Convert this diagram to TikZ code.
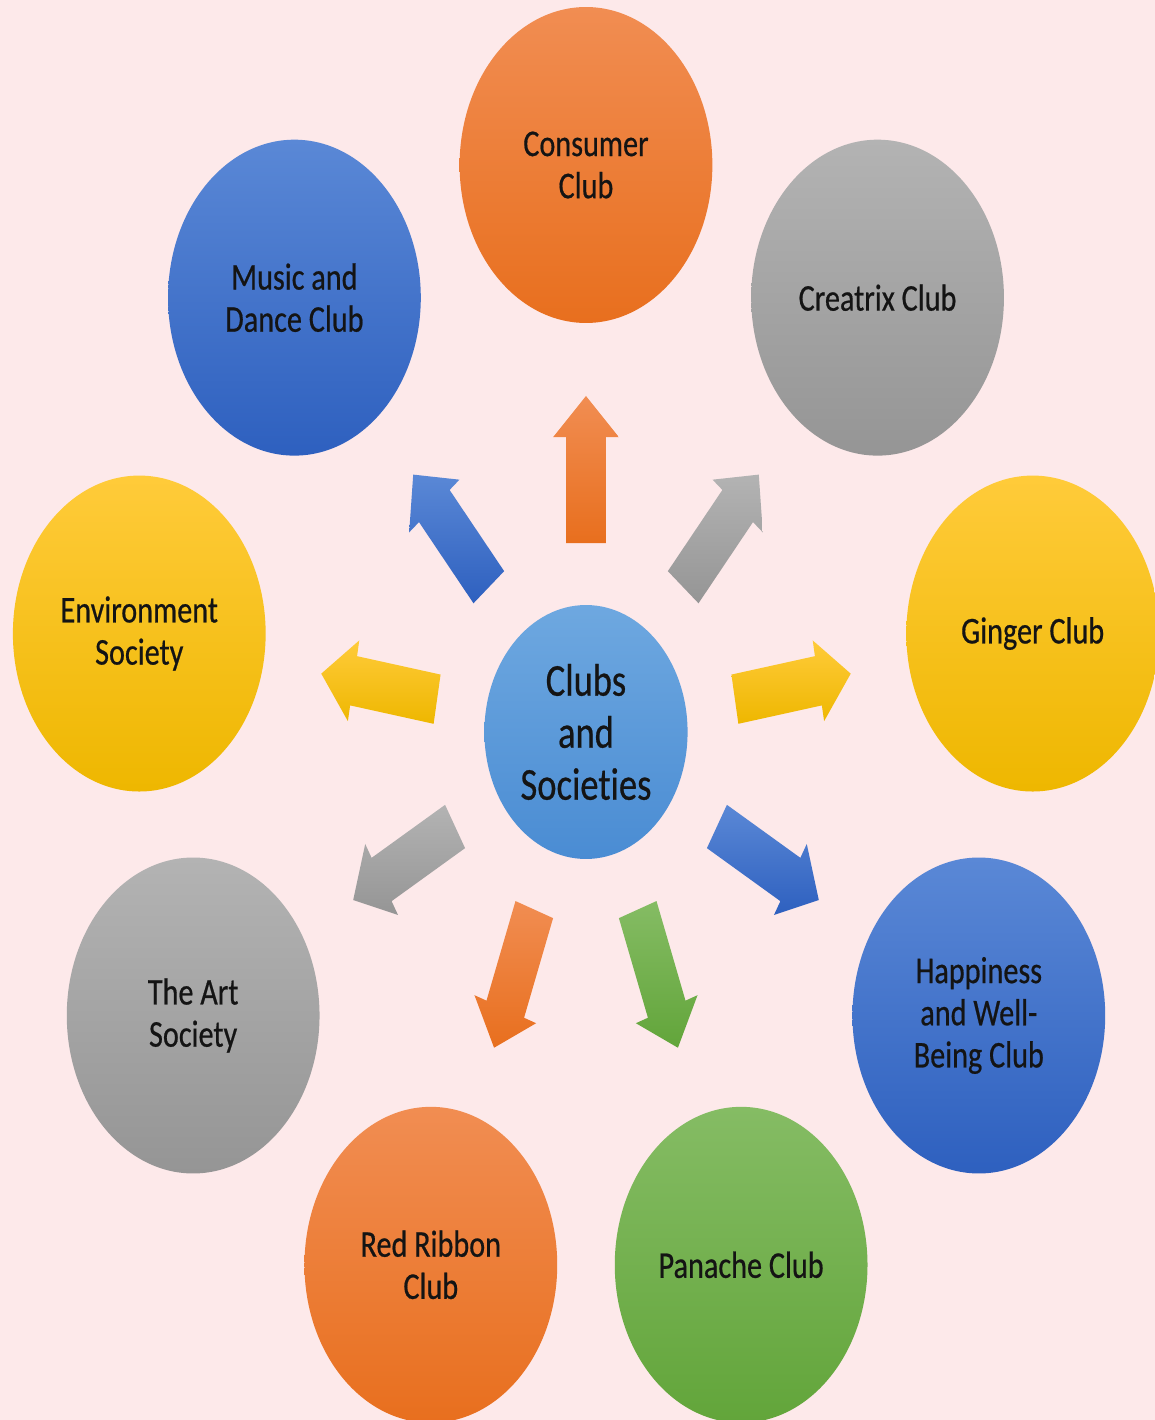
\documentclass[tikz,border=0pt]{standalone}
\usepackage{fontspec}
\setmainfont[RawFeature={-liga}, FakeBold=0.6]{Carlito}
\definecolor{bgpink}{HTML}{FDE9EA}
\definecolor{orT}{HTML}{F18D52}\definecolor{orB}{HTML}{E86F1E}
\definecolor{blT}{HTML}{5A88D6}\definecolor{blB}{HTML}{2E60BF}
\definecolor{grT}{HTML}{B3B3B3}\definecolor{grB}{HTML}{959595}
\definecolor{yeT}{HTML}{FFCB3A}\definecolor{yeB}{HTML}{EEB700}
\definecolor{gnT}{HTML}{85BC64}\definecolor{gnB}{HTML}{62A53A}
\definecolor{hbT}{HTML}{6EA8E0}\definecolor{hbB}{HTML}{4A8CD3}
\definecolor{ink}{HTML}{141414}
\newcommand\rayarrow[2]{%
  \shade[#2] ({#1+atan(25/189)}:{veclen(189,25)}) -- ({#1+atan(25/295)}:{veclen(295,25)})
    -- ({#1+atan(41/295)}:{veclen(295,41)}) -- (#1:336)
    -- ({#1-atan(41/295)}:{veclen(295,41)}) -- ({#1-atan(25/295)}:{veclen(295,25)})
    -- ({#1-atan(25/189)}:{veclen(189,25)}) -- cycle;}
\begin{document}
\begin{tikzpicture}[x=0.02cm,y=0.02cm,
  club/.style={circle, minimum size=6.32cm, inner sep=0pt, align=center, text=ink,
    font=\fontsize{21.5}{24}\selectfont, transform shape},
  hubnode/.style={circle, minimum size=5.08cm, inner sep=0pt, align=center, text=ink,
    font=\fontsize{26}{29.6}\selectfont, transform shape, top color=hbT, bottom color=hbB},
  orangeball/.style={top color=orT, bottom color=orB},
  blueball/.style={top color=blT, bottom color=blB},
  grayball/.style={top color=grT, bottom color=grB},
  yellowball/.style={top color=yeT, bottom color=yeB},
  greenball/.style={top color=gnT, bottom color=gnB}]
\fill[bgpink] (-586,-688) rectangle (569,732);
\useasboundingbox (-586,-688) rectangle (569,732);
\clip (-586,-688) rectangle (569,732);
\begin{scope}[xscale=0.8]
  \node[hubnode] (hub) at (0,0) {Clubs\\and\\Societies};
  \node[club, orangeball] (consumer) at (90:567) {Consumer\\Club};
  \node[club, blueball] (music) at (130:567) {Music and\\Dance Club};
  \node[club, yellowball] (environment) at (170:567) {Environment\\Society};
  \node[club, grayball] (art) at (210:567) {The Art\\Society};
  \node[club, orangeball] (redribbon) at (250:567) {Red Ribbon\\Club};
  \node[club, greenball] (panache) at (290:567) {Panache Club};
  \node[club, blueball] (happiness) at (330:567) {Happiness\\and Well-\\Being Club};
  \node[club, yellowball] (ginger) at (10:567) {Ginger Club};
  \node[club, grayball] (creatrix) at (50:567) {Creatrix Club};
  \rayarrow{90}{orangeball}
  \rayarrow{130}{blueball}
  \rayarrow{170}{yellowball}
  \rayarrow{210}{grayball}
  \rayarrow{250}{orangeball}
  \rayarrow{290}{greenball}
  \rayarrow{330}{blueball}
  \rayarrow{10}{yellowball}
  \rayarrow{50}{grayball}
\end{scope}
\end{tikzpicture}
\end{document}
